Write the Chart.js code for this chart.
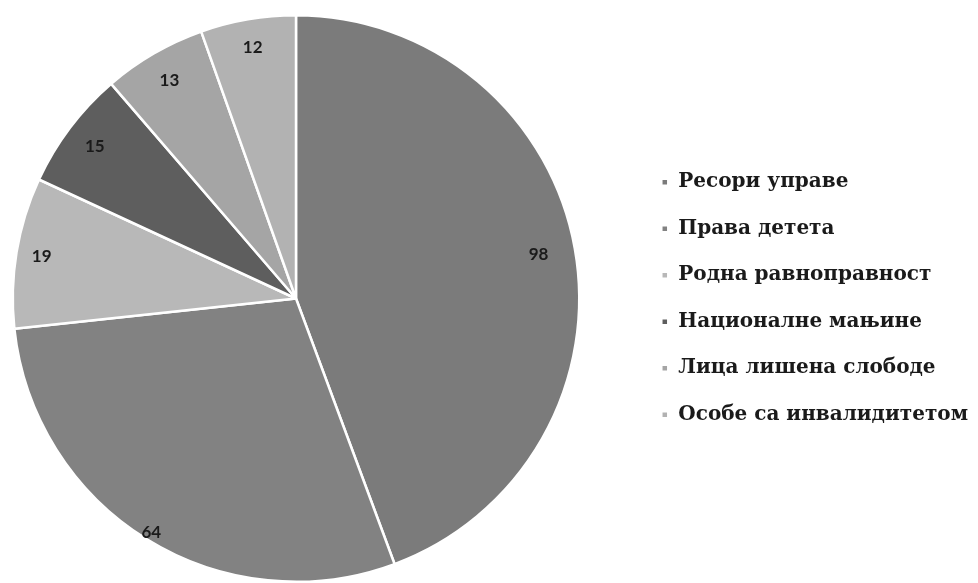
<!DOCTYPE html>
<html>
<head>
<meta charset="utf-8">
<script src="https://cdn.jsdelivr.net/npm/chart.js@4.4.1/dist/chart.umd.min.js"></script>
<style>
  html, body { margin: 0; padding: 0; background: #fff; overflow: hidden; }
  #wrap { width: 978px; height: 583px; }
</style>
</head>
<body>
<div id="wrap"><canvas id="chart" width="978" height="583"></canvas></div>
<script>
"use strict";

const categories = [
  "Ресори управе",
  "Права детета",
  "Родна равноправност",
  "Националне мањине",
  "Лица лишена слободе",
  "Особе са инвалидитетом",
];
const values = [98, 64, 19, 15, 13, 12];
const sliceColors = ["#7b7b7b", "#828282", "#b8b8b8", "#5e5e5e", "#a5a5a5", "#b2b2b2"];

// how far out (as part of the radius) each number sits
const labelDistance = [0.87, 0.97, 0.91, 0.89, 0.89, 0.9];

// pie sits in the left part, legend stays far to the right
const pieAreaWidth = 592;

const pieArea = {
  id: "pieArea",
  afterLayout(chart) {
    const a = chart.chartArea;
    a.right = a.left + pieAreaWidth;
    a.width = pieAreaWidth;
  },
};

const valueLabels = {
  id: "valueLabels",
  afterDatasetsDraw(chart) {
    const ctx = chart.ctx;
    const meta = chart.getDatasetMeta(0);
    ctx.save();
    ctx.font = "bold 17px Lato, 'Open Sans', sans-serif";
    ctx.fillStyle = "#1a1a1a";
    ctx.textAlign = "center";
    ctx.textBaseline = "middle";
    meta.data.forEach(function (arc, i) {
      const p = arc.getProps(["x", "y", "startAngle", "endAngle", "outerRadius"], true);
      const mid = (p.startAngle + p.endAngle) / 2;
      const r = p.outerRadius * labelDistance[i];
      ctx.fillText(String(values[i]), p.x + Math.cos(mid) * r, p.y + Math.sin(mid) * r);
    });
    ctx.restore();
  },
};

new Chart(document.getElementById("chart"), {
  type: "pie",
  data: {
    labels: categories,
    datasets: [
      {
        data: values,
        backgroundColor: sliceColors,
        borderColor: "#ffffff",
        borderWidth: 2.5,
      },
    ],
  },
  options: {
    responsive: false,
    animation: false,
    layout: { padding: { top: 14, left: 0, right: 0, bottom: 0 } },
    plugins: {
      tooltip: { enabled: false },
      legend: {
        position: "right",
        labels: {
          boxWidth: 7,
          boxHeight: 7,
          padding: 26.5,
          color: "#1a1a1a",
          font: { family: "'DejaVu Serif', serif", size: 20, weight: "bold" },
        },
      },
    },
  },
  plugins: [pieArea, valueLabels],
});
</script>
</body>
</html>
